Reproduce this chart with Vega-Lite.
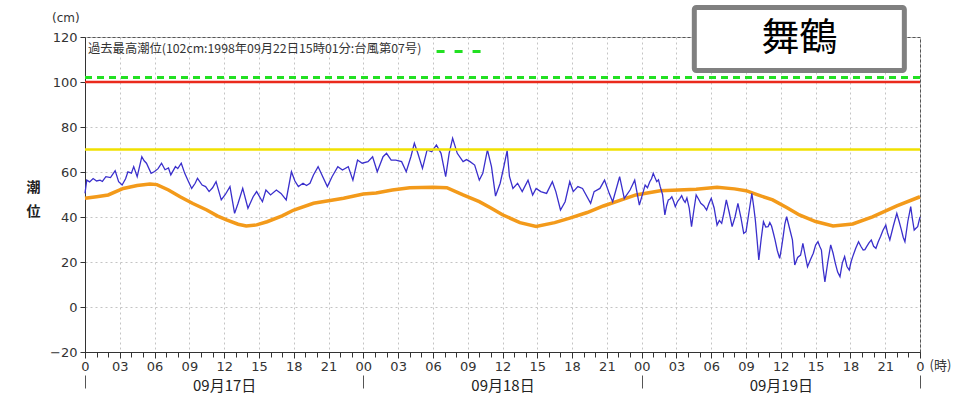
{
  "$schema": "https://vega.github.io/schema/vega-lite/v6.json",
  "width": 835,
  "height": 315,
  "autosize": "none",
  "padding": {"left": 85, "top": 37, "right": 36, "bottom": 62},
  "title": {"text": "(cm)", "anchor": "start", "frame": "group", "dx": -33, "offset": -20, "fontSize": 12, "fontWeight": "normal", "color": "#333", "font": "DejaVu Sans"},
  "config": {
    "view": {"stroke": "#555", "strokeWidth": 1},
    "axis": {"labelFont": "DejaVu Sans", "labelColor": "#333", "tickColor": "#333", "domainColor": "#333", "gridColor": "#c4c4c4", "gridDash": [2, 3]}
  },
  "datasets": {
    "obs": [
      {"h":0,"v":50.5},{"h":0.15,"v":56.4},{"h":0.4,"v":55.6},{"h":0.7,"v":57.1},{"h":1.0,"v":56},{"h":1.3,"v":56.4},{"h":1.5,"v":55.8},{"h":1.8,"v":57.9},{"h":2.2,"v":57.5},{"h":2.6,"v":60.6},{"h":2.9,"v":55.7},{"h":3.2,"v":54.2},{"h":3.5,"v":57},{"h":3.7,"v":60.1},{"h":4.0,"v":59.5},{"h":4.2,"v":62.4},{"h":4.5,"v":57.9},{"h":4.9,"v":66.8},{"h":5.1,"v":65},{"h":5.3,"v":63.9},{"h":5.7,"v":59.4},{"h":6.0,"v":60.2},{"h":6.3,"v":61.5},{"h":6.6,"v":63.9},{"h":6.9,"v":61},{"h":7.2,"v":61.8},{"h":7.4,"v":58.7},{"h":7.8,"v":62.4},{"h":8.0,"v":61.5},{"h":8.3,"v":63.9},{"h":8.6,"v":59.4},{"h":8.9,"v":56},{"h":9.2,"v":52.7},{"h":9.5,"v":55},{"h":9.7,"v":57.2},{"h":10.1,"v":54.2},{"h":10.4,"v":53.5},{"h":10.7,"v":51.3},{"h":11.0,"v":53},{"h":11.3,"v":55.7},{"h":11.75,"v":47.6},{"h":12.1,"v":50},{"h":12.5,"v":53.5},{"h":12.9,"v":41.6},{"h":13.2,"v":46.1},{"h":13.6,"v":52.7},{"h":14.05,"v":43.9},{"h":14.5,"v":49},{"h":14.8,"v":51.3},{"h":15.3,"v":46.8},{"h":15.6,"v":52},{"h":16.0,"v":49.8},{"h":16.5,"v":52},{"h":16.9,"v":50.5},{"h":17.35,"v":47.6},{"h":17.8,"v":60.1},{"h":18.1,"v":56},{"h":18.4,"v":53.5},{"h":18.8,"v":55},{"h":19.1,"v":54},{"h":19.4,"v":55},{"h":19.7,"v":58.7},{"h":20.1,"v":62.4},{"h":20.5,"v":57.9},{"h":20.9,"v":53.5},{"h":21.3,"v":57.9},{"h":21.8,"v":62.4},{"h":22.2,"v":60.9},{"h":22.7,"v":62.4},{"h":23.1,"v":56.4},{"h":23.5,"v":65.3},{"h":23.9,"v":63.9},
      {"h":24.4,"v":64.6},{"h":24.8,"v":66.8},{"h":25.2,"v":60.1},{"h":25.7,"v":66.8},{"h":26.0,"v":68.3},{"h":26.4,"v":65.3},{"h":26.8,"v":65.3},{"h":27.3,"v":64.6},{"h":27.7,"v":60.1},{"h":28.1,"v":66.8},{"h":28.4,"v":72.8},{"h":28.7,"v":68.3},{"h":29.1,"v":61.6},{"h":29.5,"v":69.8},{"h":29.9,"v":69},{"h":30.3,"v":72},{"h":30.7,"v":68.3},{"h":31.1,"v":57.9},{"h":31.4,"v":68.3},{"h":31.7,"v":75},{"h":32.1,"v":68.3},{"h":32.6,"v":64.6},{"h":32.9,"v":65.5},{"h":33.2,"v":64.6},{"h":33.6,"v":63.1},{"h":34.0,"v":56.4},{"h":34.3,"v":59.4},{"h":34.7,"v":69.8},{"h":35.05,"v":62.4},{"h":35.4,"v":49.3},{"h":35.8,"v":55},{"h":36.1,"v":62},{"h":36.4,"v":69.5},{"h":36.6,"v":58},{"h":36.9,"v":52.7},{"h":37.3,"v":55},{"h":37.7,"v":51.3},{"h":38.2,"v":56.4},{"h":38.6,"v":49.8},{"h":38.9,"v":52.7},{"h":39.3,"v":51.3},{"h":39.8,"v":50.5},{"h":40.3,"v":55.7},{"h":40.6,"v":51.3},{"h":41.0,"v":43.1},{"h":41.4,"v":46.8},{"h":41.8,"v":55.7},{"h":42.1,"v":51.3},{"h":42.5,"v":53.5},{"h":42.9,"v":52.7},{"h":43.6,"v":46.1},{"h":43.9,"v":51.3},{"h":44.4,"v":52.7},{"h":44.8,"v":56.4},{"h":45.2,"v":50.5},{"h":45.5,"v":46.8},{"h":46.1,"v":57.9},{"h":46.5,"v":48.3},{"h":47.0,"v":52},{"h":47.4,"v":56.4},{"h":47.8,"v":45.3},
      {"h":48.3,"v":54.2},{"h":48.5,"v":53},{"h":48.7,"v":55.7},{"h":48.85,"v":57},{"h":49.0,"v":59.4},{"h":49.15,"v":57.5},{"h":49.3,"v":55.7},{"h":49.45,"v":56.5},{"h":49.6,"v":53.5},{"h":49.8,"v":50},{"h":50.0,"v":40.9},{"h":50.15,"v":45},{"h":50.3,"v":47.6},{"h":50.45,"v":48},{"h":50.6,"v":49},{"h":50.75,"v":47},{"h":50.9,"v":44.6},{"h":51.1,"v":47},{"h":51.3,"v":48.3},{"h":51.45,"v":49.5},{"h":51.6,"v":47.6},{"h":51.75,"v":46.5},{"h":51.9,"v":48.5},{"h":52.1,"v":44},{"h":52.3,"v":35.7},{"h":52.5,"v":43},{"h":52.7,"v":49.8},{"h":52.9,"v":48},{"h":53.1,"v":46.1},{"h":53.35,"v":45},{"h":53.6,"v":43.1},{"h":53.8,"v":46},{"h":54.0,"v":48.3},{"h":54.25,"v":44},{"h":54.5,"v":36.4},{"h":54.7,"v":38.5},{"h":54.9,"v":37.2},{"h":55.1,"v":42},{"h":55.3,"v":47.6},{"h":55.55,"v":42},{"h":55.8,"v":35.7},{"h":56.05,"v":40},{"h":56.3,"v":46.1},{"h":56.55,"v":40},{"h":56.8,"v":32.7},{"h":57.0,"v":33.5},{"h":57.25,"v":42},{"h":57.5,"v":50.5},{"h":57.65,"v":45},{"h":57.8,"v":38.7},{"h":57.95,"v":30},{"h":58.1,"v":20.9},{"h":58.3,"v":30},{"h":58.5,"v":37.9},{"h":58.7,"v":35.5},{"h":58.9,"v":35.7},{"h":59.05,"v":37.5},{"h":59.2,"v":36},{"h":59.35,"v":33},{"h":59.5,"v":29.8},{"h":59.7,"v":25},{"h":59.9,"v":21.6},{"h":60.05,"v":26},{"h":60.2,"v":31.3},{"h":60.35,"v":37},{"h":60.5,"v":40.1},{"h":60.75,"v":35},{"h":61.0,"v":29.8},{"h":61.1,"v":24},{"h":61.2,"v":18.7},{"h":61.45,"v":22},{"h":61.7,"v":23.1},{"h":61.8,"v":25.5},{"h":61.9,"v":28.3},{"h":62.1,"v":23},{"h":62.3,"v":17.9},{"h":62.55,"v":21},{"h":62.8,"v":23.9},{"h":63.0,"v":27.5},{"h":63.2,"v":29},{"h":63.35,"v":27},{"h":63.5,"v":25.3},{"h":63.65,"v":17},{"h":63.8,"v":11.2},{"h":64.05,"v":20},{"h":64.3,"v":27.6},{"h":64.5,"v":24},{"h":64.7,"v":19.4},{"h":64.9,"v":15.5},{"h":65.1,"v":13.5},{"h":65.3,"v":19.5},{"h":65.5,"v":22.4},{"h":65.7,"v":18},{"h":65.9,"v":16.4},{"h":66.05,"v":20},{"h":66.2,"v":22.4},{"h":66.45,"v":26},{"h":66.7,"v":29},{"h":66.9,"v":27},{"h":67.1,"v":25.3},{"h":67.25,"v":25.5},{"h":67.4,"v":26.8},{"h":67.6,"v":28.5},{"h":67.8,"v":29.8},{"h":68.0,"v":27},{"h":68.2,"v":26.1},{"h":68.4,"v":29},{"h":68.6,"v":31.3},{"h":68.8,"v":34},{"h":69.05,"v":36.4},{"h":69.2,"v":33},{"h":69.4,"v":29.8},{"h":69.7,"v":36},{"h":70.0,"v":41.6},{"h":70.2,"v":38},{"h":70.4,"v":34.2},{"h":70.55,"v":31},{"h":70.7,"v":29},{"h":70.95,"v":38},{"h":71.2,"v":44.6},{"h":71.35,"v":39},{"h":71.5,"v":34.2},{"h":71.65,"v":35},{"h":71.8,"v":35.7},{"h":72,"v":40.1}
    ],
    "astro": [
      {"h":0,"v":48.3},{"h":1,"v":49},{"h":2,"v":49.8},{"h":3.3,"v":52.7},{"h":4.5,"v":54},{"h":5.6,"v":54.7},{"h":6.2,"v":54.4},{"h":7.2,"v":52},{"h":8.2,"v":49},{"h":9.3,"v":46},{"h":10.5,"v":43.1},{"h":11.4,"v":40.5},{"h":12.2,"v":38.7},{"h":13.2,"v":36.8},{"h":13.9,"v":36},{"h":14.8,"v":36.5},{"h":15.7,"v":37.9},{"h":17,"v":40.5},{"h":18,"v":43.1},{"h":19.7,"v":46.1},{"h":21,"v":47.2},{"h":22.3,"v":48.3},{"h":24,"v":50.2},{"h":25.1,"v":50.7},{"h":26.5,"v":52},{"h":28,"v":53},{"h":30,"v":53.2},{"h":31.2,"v":53},{"h":32.6,"v":49.8},{"h":34,"v":46.8},{"h":35,"v":44},{"h":36,"v":41},{"h":37.5,"v":37.5},{"h":38.9,"v":35.8},{"h":40.5,"v":37.5},{"h":41.8,"v":39.5},{"h":43.3,"v":42},{"h":44.7,"v":44.9},{"h":46,"v":47.2},{"h":47.5,"v":49.8},{"h":49.6,"v":51.7},{"h":52.7,"v":52.3},{"h":54.5,"v":53.2},{"h":56,"v":52.5},{"h":57,"v":51.7},{"h":58.2,"v":49.5},{"h":59.3,"v":47.6},{"h":60.5,"v":44.2},{"h":61.6,"v":40.9},{"h":63,"v":38},{"h":64.5,"v":36},{"h":66.2,"v":36.9},{"h":67.9,"v":40.1},{"h":70,"v":44.9},{"h":72,"v":49}
    ],
    "record": [{"label": "過去最高潮位", "v": 102}]
  },
  "layer": [
    {
      "data": {"name": "astro"},
      "mark": {"type": "line", "color": "#f39a1a", "strokeWidth": 3.5},
      "encoding": {
        "x": {"field": "h", "type": "quantitative", "scale": {"domain": [0, 72], "nice": false, "zero": false},
          "axis": {"orient": "bottom", "values": [0,3,6,9,12,15,18,21,24,27,30,33,36,39,42,45,48,51,54,57,60,63,66,69,72],
            "labelExpr": "datum.value == 0 || datum.value == 72 ? '0' : ((datum.value % 24) < 10 ? '0' : '') + (datum.value % 24)",
            "grid": true, "tickSize": 6, "labelFontSize": 13, "labelPadding": 2, "labelFlush": false, "labelOverlap": false,
            "title": "(時)", "titleX": 855, "titleY": 13, "titleFontSize": 13, "titleFontWeight": "normal", "titleAlign": "center", "titleBaseline": "middle", "titleColor": "#333", "titleFont": "Noto Sans CJK JP"}},
        "y": {"field": "v", "type": "quantitative", "scale": {"domain": [-20, 120], "nice": false, "zero": false},
          "axis": {"values": [-20,0,20,40,60,80,100,120], "grid": true, "tickSize": 5, "labelFontSize": 13, "labelPadding": 3,
            "title": ["潮", "位"], "titleAngle": 0, "titleX": -52, "titleY": 143, "titleAlign": "center", "titleBaseline": "top", "titleFontWeight": "bold", "titleFontSize": 14, "titleLineHeight": 24, "titleColor": "#222", "titleFont": "Noto Sans CJK JP"}}
      }
    },
    {
      "data": {"name": "obs"},
      "mark": {"type": "line", "color": "#3a2fcc", "strokeWidth": 1.3},
      "encoding": {
        "x": {"field": "h", "type": "quantitative", "scale": {"domain": [0, 72], "nice": false, "zero": false},
          "axis": {"orient": "bottom", "values": [0,1,2,3,4,5,6,7,8,9,10,11,12,13,14,15,16,17,18,19,20,21,22,23,24,25,26,27,28,29,30,31,32,33,34,35,36,37,38,39,40,41,42,43,44,45,46,47,48,49,50,51,52,53,54,55,56,57,58,59,60,61,62,63,64,65,66,67,68,69,70,71,72],
            "labels": false, "grid": false, "domain": false, "tickSize": 5, "title": null}},
        "y": {"field": "v", "type": "quantitative", "scale": {"domain": [-20, 120], "nice": false, "zero": false}}
      }
    },
    {
      "data": {"values": [{}]},
      "mark": {"type": "rule", "color": "#f0e000", "strokeWidth": 2.5},
      "encoding": {
        "x": {"datum": 0, "type": "quantitative", "scale": {"domain": [0, 72], "nice": false, "zero": false},
          "axis": {"orient": "bottom", "values": [12, 36, 60], "labelExpr": "datum.value == 12 ? '09月17日' : datum.value == 36 ? '09月18日' : '09月19日'",
            "ticks": false, "domain": false, "grid": false, "labelPadding": 26, "labelFontSize": 15, "labelFont": "Noto Sans CJK JP", "labelColor": "#222", "title": null}},
        "x2": {"datum": 72},
        "y": {"datum": 70, "type": "quantitative"}
      }
    },
    {
      "data": {"values": [{}]},
      "mark": {"type": "rule", "color": "#ea2a1c", "strokeWidth": 2.5},
      "encoding": {
        "x": {"datum": 0, "type": "quantitative", "scale": {"domain": [0, 72], "nice": false, "zero": false},
          "axis": {"orient": "bottom", "values": [0, 24, 48, 72], "labels": false, "domain": false, "grid": false, "tickSize": 13, "offset": 23, "tickColor": "#555", "title": null}},
        "x2": {"datum": 72},
        "y": {"datum": 100, "type": "quantitative"}
      }
    },
    {
      "data": {"name": "record"},
      "mark": {"type": "rule", "strokeWidth": 3, "strokeDash": [7, 5]},
      "encoding": {
        "x": {"datum": 0, "type": "quantitative", "scale": {"domain": [0, 72], "nice": false, "zero": false}, "axis": null},
        "x2": {"datum": 72},
        "y": {"field": "v", "type": "quantitative"},
        "color": {"field": "label", "type": "nominal", "scale": {"range": ["#22e022"]},
          "legend": {"title": ["", "過去最高潮位(102cm:1998年09月22日15時01分:台風第07号)"], "titleLineHeight": 6, "titleOrient": "left", "titleAnchor": "middle", "titleLimit": 500, "titleFontSize": 12.3, "titleFontWeight": "normal", "titleFont": "Noto Sans CJK JP", "titleColor": "#333", "titlePadding": 13, "titleBaseline": "top",
            "labelExpr": "''", "labelLimit": 1, "symbolType": "stroke", "symbolSize": 2900, "symbolStrokeWidth": 3, "symbolDash": [8, 10], "orient": "none", "legendX": 3, "legendY": -14}}
      }
    },
    {
      "data": {"values": [{}]},
      "mark": {"type": "rect", "fill": "white", "stroke": "#808080", "strokeWidth": 5, "cornerRadius": 2},
      "encoding": {
        "x": {"datum": 52.54, "type": "quantitative", "scale": {"domain": [0, 72], "nice": false, "zero": false}, "axis": null},
        "x2": {"datum": 70.65},
        "y": {"datum": 105.1, "type": "quantitative"},
        "y2": {"datum": 133.1}
      }
    },
    {
      "data": {"values": [{}]},
      "mark": {"type": "text", "text": "舞鶴", "font": "Noto Sans CJK JP", "fontSize": 38, "color": "#000", "align": "center", "baseline": "middle"},
      "encoding": {
        "x": {"datum": 61.6, "type": "quantitative", "scale": {"domain": [0, 72], "nice": false, "zero": false}, "axis": null},
        "y": {"datum": 119.1, "type": "quantitative"}
      }
    }
  ],
  "resolve": {"axis": {"x": "independent"}}
}
